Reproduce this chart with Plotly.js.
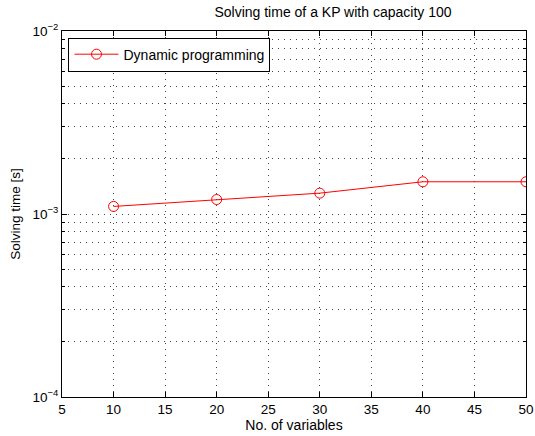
<!DOCTYPE html>
<html><head><meta charset="utf-8">
<script src="https://cdn.plot.ly/plotly-3.0.1.min.js"></script>
<style>html,body{margin:0;padding:0;background:#fff}#chart{width:535px;height:436px}</style>
</head><body><div id="chart"></div>
<script>
const variables = [10, 20, 30, 40, 50];
const solvingTime = [1.1e-3, 1.2e-3, 1.3e-3, 1.5e-3, 1.5e-3];
const seriesName = 'Dynamic programming';
const xTicks = [5, 10, 15, 20, 25, 30, 35, 40, 45, 50];
const yTickVals = [1e-4, 1e-3, 1e-2];
const yTickText = ['10<sup>−4</sup>', '10<sup>−3</sup>', '10<sup>−2</sup>'];
const yMinorVals = [];
[1e-4, 1e-3].forEach(d => { for (let k = 2; k <= 9; k++) yMinorVals.push(k * d); });

const fam = 'Liberation Sans, Arial, sans-serif';
const tickFont = {family: fam, size: 13.5, color: '#000'};
const labelFont = {family: fam, size: 14, color: '#000'};
const gridDash = '1px,5px';
const gridColor = '#444';
const trace = {
  x: variables, y: solvingTime, name: seriesName, type: 'scatter', mode: 'lines+markers',
  line: {color: '#ff0000', width: 1},
  marker: {symbol: 'circle-open', size: 10, color: '#ff0000', line: {width: 1, color: '#ff0000'}}
};
const layout = {
  width: 535, height: 436,
  margin: {l: 62, r: 9, t: 31, b: 39},
  paper_bgcolor: '#fff', plot_bgcolor: '#fff',
  font: tickFont,
  showlegend: true,
  title: {text: 'Solving time of a KP with capacity 100', font: {family: fam, size: 14, color: '#000'},
          x: 0.584, xref: 'paper', xanchor: 'center', y: 1, yref: 'container', yanchor: 'top', pad: {t: 7}},
  xaxis: {
    range: [5, 50], tickvals: xTicks, ticks: 'inside', ticklen: 5, tickcolor: '#000',
    showline: true, linecolor: '#000', linewidth: 1, mirror: 'ticks',
    showgrid: true, gridcolor: gridColor, griddash: gridDash, gridwidth: 1, zeroline: false,
    tickfont: tickFont, ticklabeloverflow: 'allow',
    title: {text: 'No. of variables', font: labelFont, standoff: 2}
  },
  yaxis: {
    type: 'log', range: [-4, -2], tickvals: yTickVals, ticktext: yTickText,
    ticks: 'inside', ticklen: 5, tickcolor: '#000',
    showline: true, linecolor: '#000', linewidth: 1, mirror: 'ticks',
    showgrid: true, gridcolor: gridColor, griddash: gridDash, gridwidth: 1, zeroline: false,
    tickfont: tickFont, ticklabeloverflow: 'allow',
    minor: {tickvals: yMinorVals, ticks: 'inside', ticklen: 3, tickcolor: '#000',
            showgrid: true, gridcolor: gridColor, griddash: gridDash, gridwidth: 1},
    title: {text: 'Solving time [s]', font: {family: fam, size: 13.5, color: '#000'}, standoff: 8}
  },
  legend: {x: 0.014, y: 0.982, xanchor: 'left', yanchor: 'top', bgcolor: '#fff',
           bordercolor: '#000', borderwidth: 1, font: labelFont,
           itemwidth: 44, tracegroupgap: 0}
};
Plotly.newPlot('chart', [trace], layout, {staticPlot: true, displayModeBar: false});
</script></body></html>
